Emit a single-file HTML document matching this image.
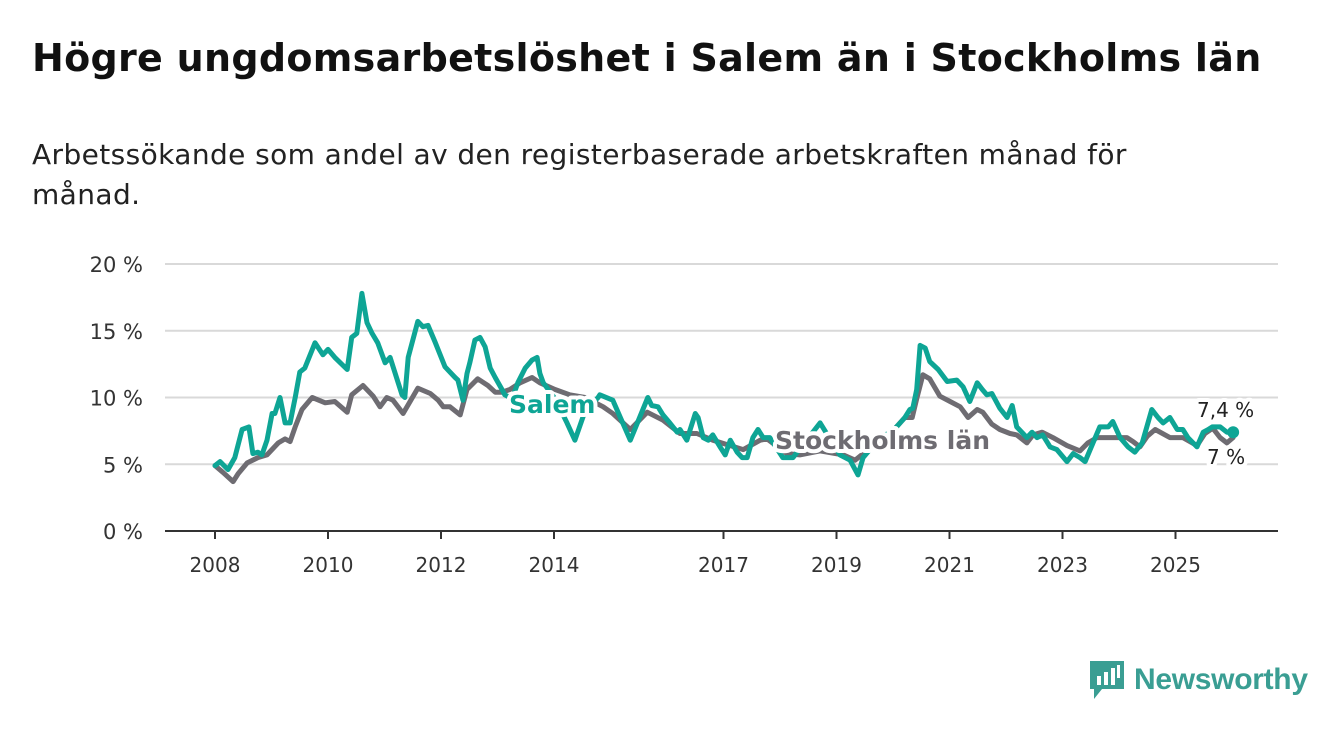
<!DOCTYPE html>
<html><head><meta charset="utf-8">
<style>
body{margin:0;background:#fff;width:1340px;height:734px;overflow:hidden;font-family:"DejaVu Sans","Liberation Sans",sans-serif;}
#title{position:absolute;left:32px;top:36px;font-size:38px;font-weight:bold;color:#111;margin:0;letter-spacing:0.3px;white-space:nowrap}
#sub{position:absolute;left:32px;top:135px;font-size:28px;color:#222;line-height:40px;width:1200px;letter-spacing:0.4px}
svg{position:absolute;left:0;top:0}
</style></head><body>
<h1 id="title">Högre ungdomsarbetslöshet i Salem än i Stockholms län</h1>
<div id="sub">Arbetssökande som andel av den registerbaserade arbetskraften månad för månad.</div>
<svg id="chart" width="1340" height="734"></svg>
<div style="position:absolute;left:1088px;top:660px;height:40px;display:flex;align-items:center">
<svg width="38" height="42" style="position:static"><path d="M2 2h34v28H14l-8 10v-10H2z" fill="#3a9e93"/><rect x="9" y="17" width="4" height="9" fill="#fff"/><rect x="16" y="13" width="4" height="13" fill="#fff"/><rect x="23" y="9" width="4" height="17" fill="#fff"/><rect x="29" y="6" width="3" height="13" fill="#fff"/></svg>
<span style="font-family:'Liberation Sans',sans-serif;font-size:30px;color:#3a9e93;margin-left:8px;font-weight:bold;letter-spacing:-0.3px">Newsworthy</span></div>
<script>
const yTicks=[0,5,10,15,20];
const xTicks=[2008,2010,2012,2014,2017,2019,2021,2023,2025];
const salemT=[2008.00,2008.09,2008.23,2008.35,2008.48,2008.60,2008.67,2008.76,2008.83,2008.92,2009.01,2009.06,2009.15,2009.24,2009.33,2009.42,2009.50,2009.59,2009.77,2009.91,2010.00,2010.12,2010.34,2010.42,2010.51,2010.60,2010.69,2010.78,2010.88,2011.01,2011.10,2011.31,2011.36,2011.42,2011.59,2011.68,2011.77,2011.89,2012.07,2012.25,2012.30,2012.39,2012.46,2012.51,2012.60,2012.69,2012.78,2012.87,2012.96,2013.08,2013.13,2013.26,2013.36,2013.49,2013.61,2013.70,2013.75,2013.81,2014.02,2014.23,2014.37,2014.55,2014.78,2014.81,2015.04,2015.35,2015.66,2015.73,2015.84,2015.93,2016.05,2016.18,2016.23,2016.35,2016.50,2016.55,2016.64,2016.73,2016.81,2016.94,2017.03,2017.12,2017.24,2017.33,2017.42,2017.52,2017.61,2017.70,2017.82,2018.05,2018.23,2018.71,2019.06,2019.24,2019.38,2019.47,2019.77,2020.00,2020.21,2020.30,2020.35,2020.42,2020.48,2020.57,2020.65,2020.80,2020.96,2021.13,2021.24,2021.36,2021.49,2021.58,2021.66,2021.75,2021.89,2022.02,2022.11,2022.19,2022.37,2022.46,2022.55,2022.65,2022.78,2022.90,2023.08,2023.19,2023.31,2023.40,2023.54,2023.66,2023.81,2023.89,2024.02,2024.16,2024.28,2024.41,2024.58,2024.69,2024.78,2024.90,2025.03,2025.13,2025.22,2025.38,2025.49,2025.58,2025.65,2025.79,2025.91,2026.02];
const salemV=[4.9,5.2,4.6,5.5,7.6,7.8,5.8,5.9,5.7,6.8,8.8,8.8,10.0,8.1,8.1,10.0,11.9,12.2,14.1,13.2,13.6,13.0,12.1,14.5,14.8,17.8,15.6,14.8,14.1,12.6,13.0,10.2,10.0,13.0,15.7,15.3,15.4,14.2,12.3,11.5,11.3,9.8,11.8,12.6,14.3,14.5,13.8,12.2,11.5,10.6,10.2,9.9,11.1,12.2,12.8,13.0,11.8,11.1,9.9,8.1,6.8,9.0,10.0,10.2,9.8,6.8,10.0,9.4,9.3,8.7,8.1,7.4,7.6,6.8,8.8,8.5,7.0,6.8,7.2,6.3,5.7,6.8,5.9,5.5,5.5,7.0,7.6,7.0,7.0,5.5,5.5,8.1,5.7,5.3,4.2,5.5,7.0,7.5,8.5,9.1,9.2,10.6,13.9,13.7,12.7,12.1,11.2,11.3,10.8,9.7,11.1,10.6,10.2,10.3,9.2,8.5,9.4,7.8,7.0,7.4,7.0,7.2,6.3,6.1,5.2,5.8,5.5,5.2,6.6,7.8,7.8,8.2,7.0,6.3,5.9,6.6,9.1,8.5,8.1,8.5,7.6,7.6,7.0,6.3,7.4,7.6,7.8,7.8,7.4,7.4];
const sthlmT=[2008.00,2008.14,2008.32,2008.41,2008.57,2008.76,2008.92,2009.12,2009.24,2009.33,2009.42,2009.54,2009.72,2009.95,2010.12,2010.34,2010.42,2010.62,2010.80,2010.92,2011.04,2011.15,2011.33,2011.59,2011.81,2011.95,2012.04,2012.16,2012.34,2012.46,2012.65,2012.83,2012.96,2013.08,2013.22,2013.40,2013.61,2013.75,2014.02,2014.28,2014.55,2014.87,2015.04,2015.35,2015.65,2015.93,2016.23,2016.53,2016.81,2017.12,2017.35,2017.65,2017.77,2018.12,2018.35,2018.71,2019.12,2019.33,2019.68,2020.04,2020.21,2020.34,2020.42,2020.53,2020.65,2020.83,2021.01,2021.19,2021.33,2021.49,2021.59,2021.75,2021.89,2022.07,2022.19,2022.37,2022.48,2022.64,2022.83,2023.08,2023.31,2023.45,2023.61,2023.89,2024.14,2024.25,2024.37,2024.50,2024.64,2024.90,2025.13,2025.38,2025.52,2025.66,2025.79,2025.91,2026.02];
const sthlmV=[4.9,4.4,3.7,4.3,5.1,5.5,5.7,6.6,6.9,6.7,7.8,9.1,10.0,9.6,9.7,8.9,10.2,10.9,10.1,9.3,10.0,9.8,8.8,10.7,10.3,9.8,9.3,9.3,8.7,10.6,11.4,10.9,10.4,10.4,10.6,11.1,11.5,11.1,10.6,10.2,10.0,9.3,8.8,7.6,8.9,8.3,7.3,7.3,6.8,6.4,6.1,6.8,6.9,5.8,5.7,6.0,5.7,5.3,6.5,7.7,8.5,8.5,9.9,11.7,11.4,10.1,9.7,9.3,8.5,9.1,8.9,8.0,7.6,7.3,7.2,6.6,7.2,7.4,7.0,6.4,6.0,6.6,7.0,7.0,7.0,6.7,6.3,7.1,7.6,7.0,7.0,6.4,7.3,7.7,7.0,6.6,7.0];
const NS='http://www.w3.org/2000/svg';
const svg=document.getElementById('chart');
const X0=165,X1=1278,Y0=531,Y1=264;
const xs=t=>215+(t-2008)*56.5;
const ys=v=>Y0-(v/20)*(Y0-Y1);
function mk(tag,at,parent){const e=document.createElementNS(NS,tag);for(const k in at)e.setAttribute(k,at[k]);(parent||svg).appendChild(e);return e;}
yTicks.forEach(v=>{
  if(v>0){const g=mk('line',{x1:X0,x2:X1,y1:ys(v),y2:ys(v),stroke:'#d9d9d9','stroke-width':2});
  
  }
  const t=mk('text',{x:143,y:ys(v)+8,'text-anchor':'end','font-size':21,fill:'#333','font-family':'DejaVu Sans, sans-serif'});
  
  
  t.textContent=v+' %';
});
const ax=mk('line',{x1:X0,x2:X1,y1:Y0,y2:Y0,stroke:'#333','stroke-width':2});


xTicks.forEach(y=>{
  const tk=mk('line',{x1:xs(y),x2:xs(y),y1:Y0,y2:Y0+8,stroke:'#333','stroke-width':2});
  
  
  const t=mk('text',{x:xs(y),y:572,'text-anchor':'middle','font-size':20,fill:'#333','font-family':'DejaVu Sans, sans-serif'});
  
  
  t.textContent=y;
});
function line(T,V,col,name){
  const d=T.map((t,i)=>(i?'L':'M')+xs(t).toFixed(1)+' '+ys(V[i]).toFixed(1)).join(' ');
  const p=mk('path',{d:d,fill:'none',stroke:col,'stroke-width':5,'stroke-linejoin':'round','stroke-linecap':'round'});
  
  
}
line(sthlmT,sthlmV,'#6e6c72','stockholm-line');
line(salemT,salemV,'#0ea595','salem-line');
const dot=mk('circle',{cx:xs(salemT[salemT.length-1]),cy:ys(salemV[salemV.length-1]),r:6,fill:'#0ea595'});


function lab(x,y,txt,col,size,bold,name){
  const t=mk('text',{x:x,y:y,fill:col,'font-size':size,'font-weight':bold?'bold':'normal',stroke:'#fff','stroke-width':8,'paint-order':'stroke','stroke-linejoin':'round','font-family':'DejaVu Sans, sans-serif'});
  
  
  t.textContent=txt;
}
lab(509,413,'Salem','#0ea595',25,true,'salem-label');
lab(775,449,'Stockholms län','#6e6c72',25,true,'stockholm-label');
lab(1197,417,'7,4 %','#222',20,false,'salem-end-value');
lab(1207,464,'7 %','#222',20,false,'stockholm-end-value');
</script>
</body></html>
